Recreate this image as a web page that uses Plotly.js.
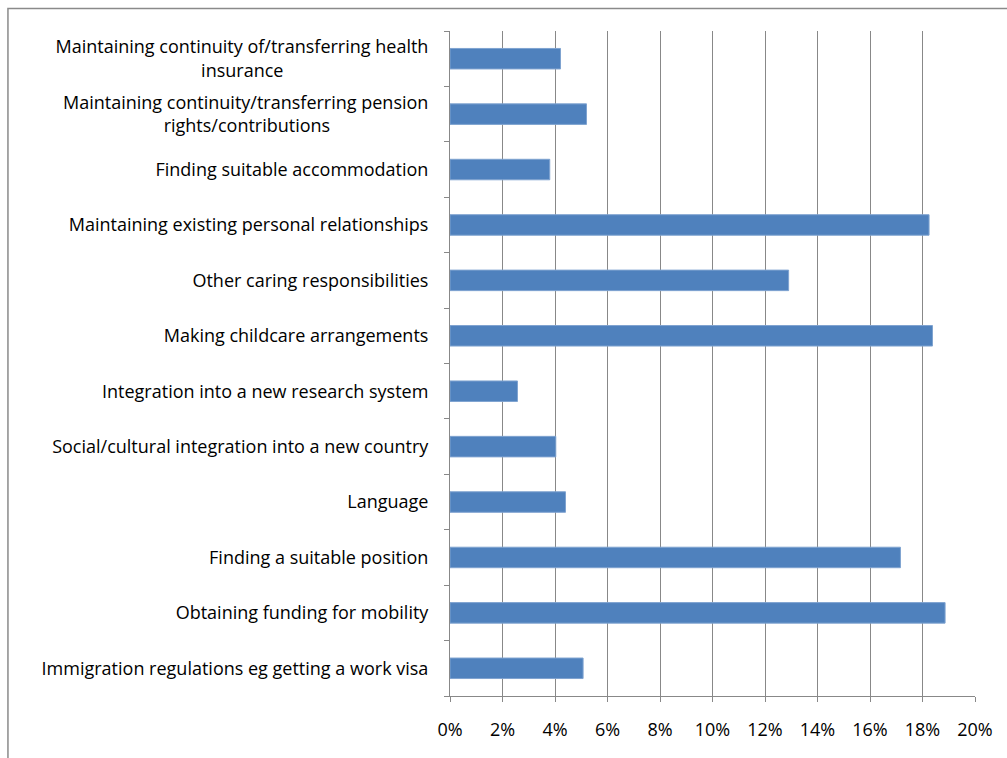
<!DOCTYPE html>
<html><head><meta charset="utf-8">
<script src="https://cdn.plot.ly/plotly-3.0.1.min.js"></script>
<style>html,body{margin:0;padding:0;background:#fff}#chart{width:1007px;height:758px}</style>
</head><body><div id="chart"></div>
<script>
// ---- data (top to bottom) ----
const categories = [
  "Maintaining continuity of/transferring health<br>insurance",
  "Maintaining continuity/transferring pension<br>rights/contributions",
  "Finding suitable accommodation",
  "Maintaining existing personal relationships",
  "Other caring responsibilities",
  "Making childcare arrangements",
  "Integration into a new research system",
  "Social/cultural integration into a new country",
  "Language",
  "Finding a suitable position",
  "Obtaining funding for mobility",
  "Immigration regulations eg getting a work visa"
];
const values = [0.0421, 0.0520, 0.0380, 0.1825, 0.1290, 0.1838, 0.0257, 0.0403, 0.0440, 0.1716, 0.1886, 0.0507];
const xTickValues = [0, 0.02, 0.04, 0.06, 0.08, 0.10, 0.12, 0.14, 0.16, 0.18, 0.20];
const xTickLabels = ["0%", "2%", "4%", "6%", "8%", "10%", "12%", "14%", "16%", "18%", "20%"];

// ---- styling ----
const FONT = "Open Sans";
const FS = 18;
const GRID = "#888888";
const BAR = "#4F81BD";

// center multi-line labels by padding shorter lines with no-break spaces
const cv = document.createElement("canvas").getContext("2d");
cv.font = FS + "px '" + FONT + "'";
const nb = "\u00A0";
const nbW = cv.measureText(nb).width || FS * 0.26;
function centerLines(label) {
  const lines = label.split("<br>");
  if (lines.length < 2) return label;
  const ws = lines.map(l => cv.measureText(l).width);
  const maxW = Math.max(...ws);
  return lines.map((l, i) => {
    const pad = Math.round((maxW - ws[i]) / 2 / nbW);
    return l + nb.repeat(pad);
  }).join("<br>");
}

const idx = categories.map((_, i) => i);
const bounds = [-0.5].concat(idx.map(i => i + 0.5));
const yRange = [categories.length - 0.5, -0.5];

const traces = [
  {
    type: "bar", orientation: "h",
    x: values, y: idx,
    marker: {color: BAR, line: {color: "#7FA3D0", width: 1}},
    hoverinfo: "x+y", showlegend: false
  },
  {
    type: "scatter", mode: "markers", x: [0], y: [0], yaxis: "y2",
    marker: {opacity: 0}, hoverinfo: "skip", showlegend: false
  }
];

const layout = {
  width: 1007, height: 758,
  margin: {l: 450, r: 32, t: 31, b: 62},
  paper_bgcolor: "#ffffff", plot_bgcolor: "#ffffff",
  font: {family: FONT, size: FS, color: "#000000"},
  bargap: 0.63,
  xaxis: {
    range: [0, 0.2], tickvals: xTickValues, ticktext: xTickLabels,
    showgrid: true, gridcolor: GRID, gridwidth: 1,
    showline: true, linecolor: GRID, linewidth: 1,
    ticks: "outside", ticklen: 5, tickcolor: GRID, tickwidth: 1,
    ticklabelstandoff: 12, zeroline: false, fixedrange: true
  },
  yaxis: {
    range: yRange, tickvals: idx, ticktext: categories.map(centerLines),
    ticks: "", showgrid: false, zeroline: false,
    showline: true, linecolor: GRID, linewidth: 1,
    ticklabelstandoff: 17, fixedrange: true
  },
  yaxis2: {
    overlaying: "y", anchor: "x", side: "left", range: yRange,
    tickvals: bounds, ticks: "outside", ticklen: 5, tickcolor: GRID, tickwidth: 1,
    showticklabels: false, showgrid: false, zeroline: false, showline: false, fixedrange: true
  },
  shapes: [{
    type: "rect", xref: "paper", yref: "paper",
    x0: -0.842, x1: 1.2, y0: -0.3, y1: 1.034,
    line: {color: "#8a8a8a", width: 1.5}, fillcolor: "rgba(0,0,0,0)", layer: "below"
  }]
};

Plotly.newPlot("chart", traces, layout, {displayModeBar: false, staticPlot: true});
</script>
</body></html>
